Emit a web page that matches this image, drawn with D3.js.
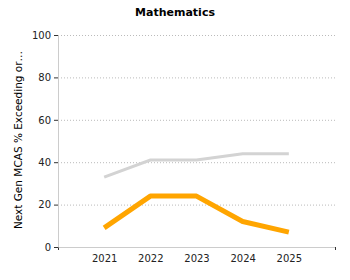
<!DOCTYPE html>
<html>
<head>
<meta charset="utf-8">
<script src="https://cdn.jsdelivr.net/npm/d3@7"></script>
<style>
  body { margin: 0; background: #fff; }
  svg text { font-family: "DejaVu Sans", Verdana, sans-serif; }
</style>
</head>
<body>
<div id="chart"></div>
<script>
const years = [2021, 2022, 2023, 2024, 2025];
const districtValues = [9, 24, 24, 12, 7];
const stateValues = [33, 41, 41, 44, 44];
const yTicks = [0, 20, 40, 60, 80, 100];

const margin = { top: 35, right: 15, bottom: 33, left: 58 };
const totalW = 350, totalH = 280;
const width = totalW - margin.left - margin.right;
const height = totalH - margin.top - margin.bottom;

const svg = d3.select("#chart").append("svg")
    .attr("width", totalW)
    .attr("height", totalH);

const chart = svg.append("g")
    .attr("transform", `translate(${margin.left},${margin.top})`);

const x = d3.scaleLinear()
    .domain([2020, 2026])
    .range([0, width]);

const y = d3.scaleLinear()
    .domain([0, 100])
    .range([height, 0]);

// dotted grid
chart.append("g")
    .selectAll("line")
    .data(yTicks.filter(d => d > 0))
    .join("line")
    .attr("x1", 0)
    .attr("x2", width)
    .attr("y1", d => y(d) + 0.5)
    .attr("y2", d => y(d) + 0.5)
    .attr("stroke", "#bbb")
    .attr("stroke-dasharray", "1,2");

const gx = chart.append("g")
    .attr("transform", `translate(0,${height})`)
    .call(d3.axisBottom(x).tickValues(years).tickFormat(d3.format("d")).tickSize(3).tickSizeOuter(3));

const gy = chart.append("g")
    .call(d3.axisLeft(y).tickValues(yTicks).tickSize(4).tickSizeOuter(0));

[gx, gy].forEach(g => {
    g.select(".domain").attr("stroke", "#ccc");
    g.selectAll(".tick line").attr("stroke", "#333");
    g.selectAll(".tick text")
        .style("font-size", "10px")
        .attr("fill", "#222");
});
gx.selectAll(".tick line").attr("stroke", "none");
gx.append("path")
    .attr("d", `M${width + 0.5},0V3`)
    .attr("stroke", "#333");
gx.append("path")
    .attr("d", `M0.5,0V3`)
    .attr("stroke", "#333");
gx.selectAll(".tick text").attr("dy", "0.9em");

const line = d3.line()
    .x((d, i) => x(years[i]))
    .y(d => y(d));

chart.append("path")
    .datum(stateValues)
    .attr("fill", "none")
    .attr("stroke", "#d3d3d3")
    .attr("stroke-width", 3)
    .attr("d", line);

chart.append("path")
    .datum(districtValues)
    .attr("fill", "none")
    .attr("stroke", "#ffa500")
    .attr("stroke-width", 5)
    .attr("stroke-linejoin", "round")
    .attr("d", line);

svg.append("text")
    .attr("x", totalW / 2)
    .attr("y", 16)
    .attr("text-anchor", "middle")
    .style("font-size", "11px")
    .style("font-weight", "bold")
    .attr("fill", "#000")
    .text("Mathematics");

svg.append("text")
    .attr("transform", `translate(22,140) rotate(-90)`)
    .attr("text-anchor", "middle")
    .style("font-size", "10.5px")
    .attr("fill", "#000")
    .text("Next Gen MCAS % Exceeding or…");
</script>
</body>
</html>
